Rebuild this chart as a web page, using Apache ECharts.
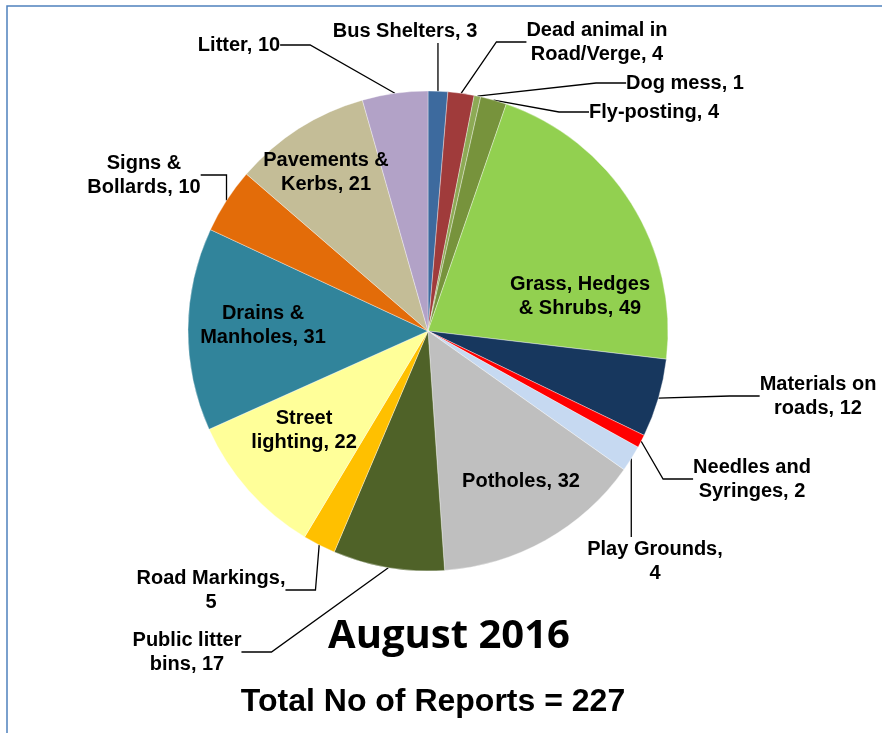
<!DOCTYPE html>
<html>
<head>
<meta charset="utf-8">
<script src="https://cdn.jsdelivr.net/npm/echarts@6/dist/echarts.min.js"></script>
<style>
  html, body { margin: 0; padding: 0; background: #fff; }
  #chart { width: 882px; height: 733px; }
</style>
</head>
<body>
<div id="chart"></div>
<script>
// categories and counts, clockwise from 12 o'clock
const categories = [
  'Bus Shelters', 'Dead animal in\nRoad/Verge', 'Dog mess', 'Fly-posting',
  'Grass, Hedges\n& Shrubs', 'Materials on\nroads', 'Needles and\nSyringes', 'Play Grounds,\n',
  'Potholes', 'Public litter\nbins', 'Road Markings,\n', 'Street\nlighting',
  'Drains &\nManholes', 'Signs &\nBollards', 'Pavements &\nKerbs', 'Litter'
];
const counts = [3, 4, 1, 4, 49, 12, 2, 4, 32, 17, 5, 22, 31, 10, 21, 10];
const colours = [
  '#3D6A9E', '#A03B3B', '#8DAA55', '#77933C',
  '#92D050', '#17375E', '#FF0000', '#C6D9F1',
  '#BFBFBF', '#4F6228', '#FFC000', '#FFFF99',
  '#31849B', '#E36C09', '#C4BD97', '#B2A2C7'
];
const insideLabel = [false, false, false, false, true, false, false, false,
                     true, false, false, true, true, false, true, false];
// where each label sits (centre, px)
const labelSpots = [
  [405, 31], [597, 42], [685, 83], [654, 112],
  [580, 296], [818, 396], [752, 479], [655, 561],
  [521, 481], [187, 652], [211, 590], [304, 430],
  [263, 325], [144, 175], [326, 172], [239, 45]
];
// leader lines drawn straight up/down from the slice
const straightLeader = [true, false, false, false, false, false, false, true,
                        false, false, false, false, false, false, false, false];
const total = counts.reduce((a, b) => a + b, 0);

const chart = echarts.init(document.getElementById('chart'));
const font = '"Liberation Sans", Arial, sans-serif';

chart.setOption({
  animation: false,
  backgroundColor: '#fff',
  graphic: [{
    type: 'rect',
    shape: { x: 7, y: 6, width: 900, height: 800 },
    style: { fill: 'none', stroke: '#4F81BD', lineWidth: 1.5 },
    silent: true
  }],
  title: [{
    text: 'August 2016',
    left: 444, top: 612,
    textAlign: 'center',
    textStyle: { fontFamily: '"Open Sans", sans-serif', fontWeight: 'bold', fontSize: 40, color: '#000' }
  }, {
    text: 'Total No of Reports = ' + total,
    left: 428, top: 681,
    textAlign: 'center',
    textStyle: { fontFamily: font, fontWeight: 'bold', fontSize: 32, color: '#000' }
  }],
  series: [{
    type: 'pie',
    center: [428, 331],
    radius: 240,
    startAngle: 90,
    clockwise: true,
    avoidLabelOverlap: false,
    itemStyle: { borderWidth: 0.6, borderColor: 'rgba(255,255,255,0.6)' },
    label: {
      show: true,
      fontFamily: font,
      fontWeight: 'bold',
      fontSize: 20,
      lineHeight: 24,
      color: '#000',
      align: 'center',
      formatter: p => {
        const name = categories[p.dataIndex];
        return name.endsWith('\n') ? name + p.value : name + ', ' + p.value;
      }
    },
    labelLine: { show: true, lineStyle: { color: '#000', width: 1.3 } },
    labelLayout: p => {
      const i = p.dataIndex;
      const out = {
        x: labelSpots[i][0],
        y: labelSpots[i][1],
        align: 'center',
        verticalAlign: 'middle'
      };
      if (straightLeader[i] && p.labelLinePoints) {
        const a = p.labelLinePoints[0];
        const h = p.labelRect.height / 2;
        const edge = a[1] > labelSpots[i][1] ? labelSpots[i][1] + h : labelSpots[i][1] - h;
        out.labelLinePoints = [[a[0], a[1]], [a[0], edge], [a[0], edge]];
      }
      return out;
    },
    data: counts.map((v, i) => ({
      name: categories[i],
      value: v,
      itemStyle: { color: colours[i] },
      label: { position: insideLabel[i] ? 'inside' : 'outside' },
      labelLine: { show: !insideLabel[i] }
    }))
  }]
});
</script>
</body>
</html>
